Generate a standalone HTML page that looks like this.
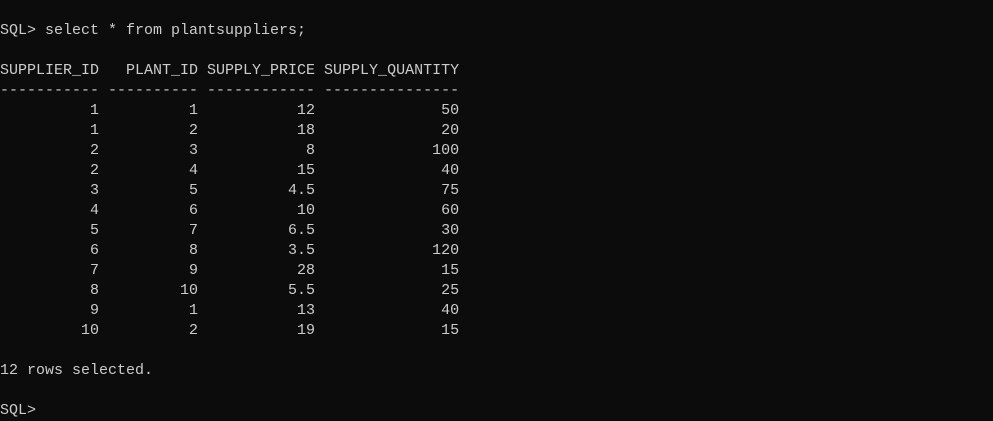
<!DOCTYPE html>
<html><head><meta charset="utf-8"><style>
html,body{margin:0;padding:0;width:993px;height:410px;overflow:hidden;background:#0c0c0c;}
pre{position:absolute;left:0;top:21px;margin:0;font-family:"Liberation Mono",monospace;font-size:15px;line-height:20px;color:#cccccc;}
</style></head><body>
<pre>SQL&gt; select * from plantsuppliers;

SUPPLIER_ID   PLANT_ID SUPPLY_PRICE SUPPLY_QUANTITY
----------- ---------- ------------ ---------------
          1          1           12              50
          1          2           18              20
          2          3            8             100
          2          4           15              40
          3          5          4.5              75
          4          6           10              60
          5          7          6.5              30
          6          8          3.5             120
          7          9           28              15
          8         10          5.5              25
          9          1           13              40
         10          2           19              15

12 rows selected.

SQL&gt;</pre>
</body></html>
